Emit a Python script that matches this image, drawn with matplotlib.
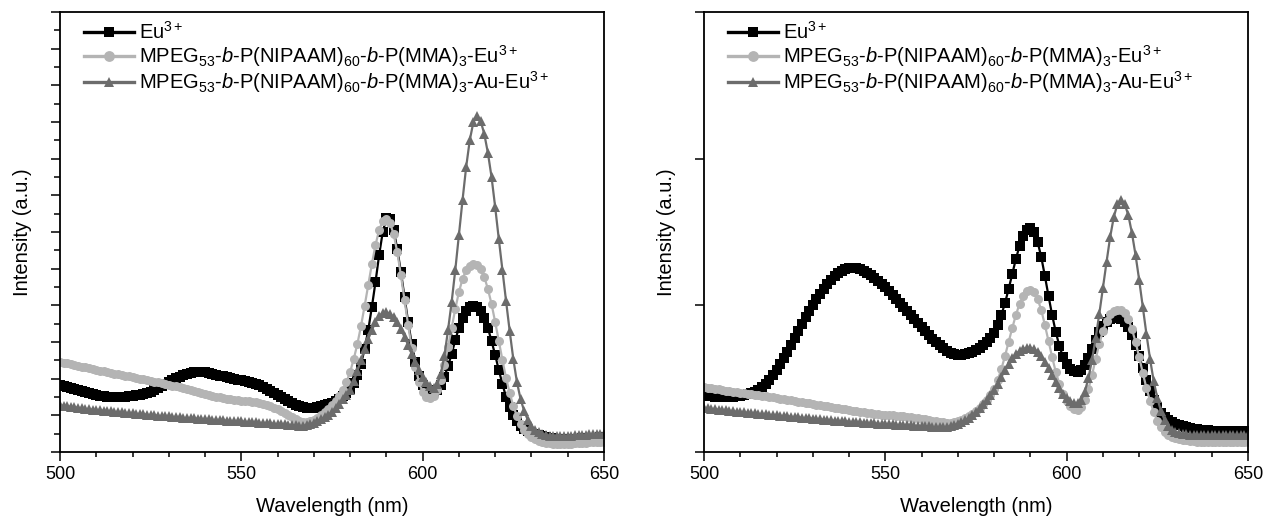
import numpy as np
import matplotlib
matplotlib.use('Agg')
import matplotlib.pyplot as plt
from matplotlib.ticker import MultipleLocator

plt.rcParams['font.family'] = ['Liberation Sans', 'DejaVu Sans']
plt.rcParams['mathtext.fontset'] = 'custom'
plt.rcParams['mathtext.rm'] = 'Liberation Sans'
plt.rcParams['mathtext.it'] = 'Liberation Sans:italic'

# wavelength grid, 1 nm steps
wavelength = np.arange(500, 651)

labels = [
    r'Eu$^{3+}$',
    r'MPEG$_{53}$-$b$-P(NIPAAM)$_{60}$-$b$-P(MMA)$_{3}$-Eu$^{3+}$',
    r'MPEG$_{53}$-$b$-P(NIPAAM)$_{60}$-$b$-P(MMA)$_{3}$-Au-Eu$^{3+}$',
]

# left panel (a.u.)
left_eu = [
    67, 66, 65, 64, 63, 62, 61, 60, 59, 58, 57, 56, 56, 55, 55, 55, 55, 55, 55, 56,
    56, 57, 57, 58, 59, 60, 62, 64, 66, 68, 70, 72, 74, 75, 77, 78, 79, 80, 80, 80,
    80, 79, 78, 77, 76, 76, 75, 74, 73, 72, 72, 71, 70, 69, 68, 67, 65, 63, 61, 59,
    57, 55, 53, 51, 49, 47, 46, 45, 44, 44, 44, 45, 46, 47, 48, 49, 51, 53, 56, 59,
    63, 69, 77, 88, 103, 122, 145, 170, 197, 220, 234, 233, 222, 203, 180, 155, 130, 108, 90, 76,
    67, 62, 60, 60, 62, 67, 75, 86, 98, 112, 124, 134, 141, 145, 146, 145, 141, 134, 124, 111,
    97, 82, 68, 55, 45, 37, 31, 26, 23, 21, 19, 18, 17, 16, 15, 14, 14, 13, 13, 13,
    13, 13, 13, 13, 14, 14, 14, 14, 14, 15, 15,
]
left_mpeg = [
    90, 89, 89, 88, 87, 86, 85, 85, 84, 83, 82, 81, 81, 80, 79, 78, 78, 77, 76, 76,
    75, 74, 73, 73, 72, 71, 70, 70, 69, 68, 67, 66, 66, 65, 64, 63, 62, 61, 60, 59,
    58, 57, 56, 55, 55, 54, 53, 53, 52, 52, 51, 51, 51, 50, 50, 49, 48, 47, 46, 44,
    43, 41, 39, 37, 35, 33, 31, 30, 30, 31, 32, 34, 37, 40, 43, 47, 51, 56, 62, 70,
    80, 93, 108, 126, 146, 167, 188, 207, 222, 231, 233, 229, 218, 200, 177, 152, 127, 104, 85, 70,
    60, 55, 54, 56, 62, 72, 87, 105, 124, 143, 160, 173, 182, 186, 188, 187, 183, 175, 163, 148,
    130, 111, 92, 74, 59, 46, 36, 28, 22, 18, 15, 13, 11, 10, 9, 9, 8, 8, 8, 8,
    8, 8, 9, 9, 9, 9, 10, 10, 10, 10, 10,
]
left_au = [
    47, 46, 46, 45, 45, 44, 44, 43, 43, 42, 42, 42, 41, 41, 41, 40, 40, 40, 39, 39,
    39, 38, 38, 38, 37, 37, 37, 36, 36, 36, 36, 35, 35, 35, 34, 34, 34, 34, 33, 33,
    33, 33, 32, 32, 32, 32, 31, 31, 31, 31, 31, 30, 30, 30, 30, 29, 29, 29, 29, 28,
    28, 28, 28, 27, 27, 27, 26, 26, 27, 28, 29, 31, 33, 35, 37, 40, 44, 48, 53, 57,
    62, 71, 81, 92, 103, 113, 122, 130, 136, 139, 140, 138, 135, 130, 123, 115, 107, 98, 90, 82,
    75, 70, 66, 64, 68, 78, 96, 122, 150, 182, 217, 252, 285, 312, 330, 336, 331, 318, 299, 275,
    245, 213, 182, 151, 121, 93, 70, 53, 41, 32, 26, 22, 20, 18, 17, 16, 16, 16, 16, 16,
    16, 16, 17, 17, 17, 17, 18, 18, 18, 18, 18,
]

# right panel (a.u.)
right_eu = [
    57, 56, 56, 55, 55, 55, 55, 55, 55, 56, 56, 57, 58, 59, 60, 62, 65, 68, 72, 77,
    82, 88, 94, 100, 107, 114, 121, 128, 135, 141, 147, 153, 158, 163, 168, 172, 176, 179, 181, 183,
    184, 184, 184, 183, 181, 179, 177, 174, 171, 168, 165, 161, 157, 153, 149, 145, 141, 137, 133, 129,
    125, 121, 117, 113, 110, 107, 104, 101, 99, 98, 97, 97, 98, 99, 100, 102, 104, 107, 110, 114,
    119, 127, 137, 149, 163, 178, 193, 206, 216, 222, 224, 220, 210, 195, 176, 156, 137, 120, 106, 95,
    88, 83, 81, 80, 82, 87, 94, 103, 112, 120, 126, 130, 133, 134, 134, 133, 130, 125, 117, 107,
    96, 84, 72, 61, 52, 45, 39, 35, 32, 30, 28, 27, 26, 25, 24, 23, 23, 22, 22, 22,
    21, 21, 21, 21, 21, 21, 21, 21, 21, 21, 21,
]
right_mpeg = [
    65, 64, 64, 63, 63, 62, 61, 61, 60, 60, 59, 59, 58, 58, 57, 57, 56, 56, 55, 55,
    54, 53, 53, 52, 52, 51, 50, 50, 49, 49, 48, 47, 47, 46, 46, 45, 44, 44, 43, 43,
    42, 41, 41, 40, 40, 39, 39, 38, 38, 37, 37, 37, 37, 36, 36, 36, 35, 35, 34, 34,
    33, 33, 32, 31, 31, 30, 30, 29, 29, 30, 31, 32, 34, 36, 38, 41, 44, 48, 52, 57,
    63, 72, 83, 96, 110, 124, 137, 148, 156, 161, 162, 160, 153, 142, 127, 111, 95, 80, 68, 58,
    51, 46, 43, 42, 45, 52, 63, 77, 93, 108, 121, 131, 138, 141, 142, 142, 139, 133, 123, 110,
    95, 79, 64, 51, 40, 31, 25, 20, 17, 15, 14, 13, 12, 12, 11, 11, 10, 10, 10, 10,
    10, 10, 10, 10, 10, 10, 10, 10, 10, 10, 10,
]
right_au = [
    44, 44, 43, 43, 42, 42, 42, 41, 41, 40, 40, 40, 39, 39, 39, 38, 38, 38, 37, 37,
    37, 36, 36, 36, 35, 35, 35, 34, 34, 34, 33, 33, 33, 32, 32, 32, 31, 31, 31, 31,
    30, 30, 30, 30, 29, 29, 29, 29, 28, 28, 28, 28, 28, 27, 27, 27, 27, 27, 26, 26,
    26, 26, 26, 25, 25, 25, 25, 25, 26, 27, 28, 30, 32, 34, 37, 40, 44, 48, 52, 57,
    62, 68, 75, 82, 88, 94, 98, 101, 103, 104, 104, 103, 100, 96, 90, 84, 77, 70, 64, 58,
    54, 51, 49, 49, 52, 60, 74, 92, 114, 138, 164, 190, 215, 235, 248, 252, 248, 237, 219, 197,
    172, 145, 118, 93, 71, 54, 41, 32, 26, 22, 20, 19, 18, 18, 17, 17, 17, 17, 17, 17,
    17, 17, 17, 17, 17, 17, 17, 17, 17, 17, 17,
]

colors = ['#000000', '#b4b4b4', '#6c6c6c']
markers = ['s', 'o', '^']


def draw_panel(ax, series, n_major, minor=True):
    for vals, lab, col, mk in zip(series, labels, colors, markers):
        ax.plot(wavelength, vals, color=col, marker=mk, markersize=6.5,
                markeredgewidth=0, linewidth=1.6, label=lab)

    ax.set_xlim(500, 650)
    ax.set_ylim(0, 440)
    ax.xaxis.set_major_locator(MultipleLocator(50))
    ax.xaxis.set_minor_locator(MultipleLocator(10))
    ax.yaxis.set_major_locator(MultipleLocator(440 / n_major))
    if minor:
        ax.yaxis.set_minor_locator(MultipleLocator(440 / n_major / 2))
    ax.set_yticklabels([])

    ax.tick_params(which='major', direction='out', length=6.5, width=1.1, labelsize=13)
    ax.tick_params(which='minor', direction='out', length=3.8, width=1.1)
    ax.tick_params(axis='y', which='minor', length=4.3)
    for s in ax.spines.values():
        s.set_linewidth(1.3)

    ax.set_xlabel('Wavelength (nm)', fontsize=14.5, labelpad=10)
    ax.set_ylabel('Intensity (a.u.)', fontsize=14.5, labelpad=10)

    # legend sits tight in the top-left corner, small row gap
    leg = ax.legend(loc='upper left', frameon=False, fontsize=14.5, handlelength=2.5,
                    handletextpad=0.25, labelspacing=0.0, borderaxespad=0.05,
                    bbox_to_anchor=(0.027, 1.0), markerscale=1.2)
    for h in leg.legend_handles:
        h.set_linewidth(2.4)


fig = plt.figure(figsize=(12.63, 5.16), dpi=100)
ax1 = fig.add_axes([0.0475, 0.124, 0.4307, 0.8527])
ax2 = fig.add_axes([0.5574, 0.124, 0.4307, 0.8527])

draw_panel(ax1, [left_eu, left_mpeg, left_au], 12, minor=True)
draw_panel(ax2, [right_eu, right_mpeg, right_au], 3, minor=False)

fig.savefig('out.png', dpi=100)
